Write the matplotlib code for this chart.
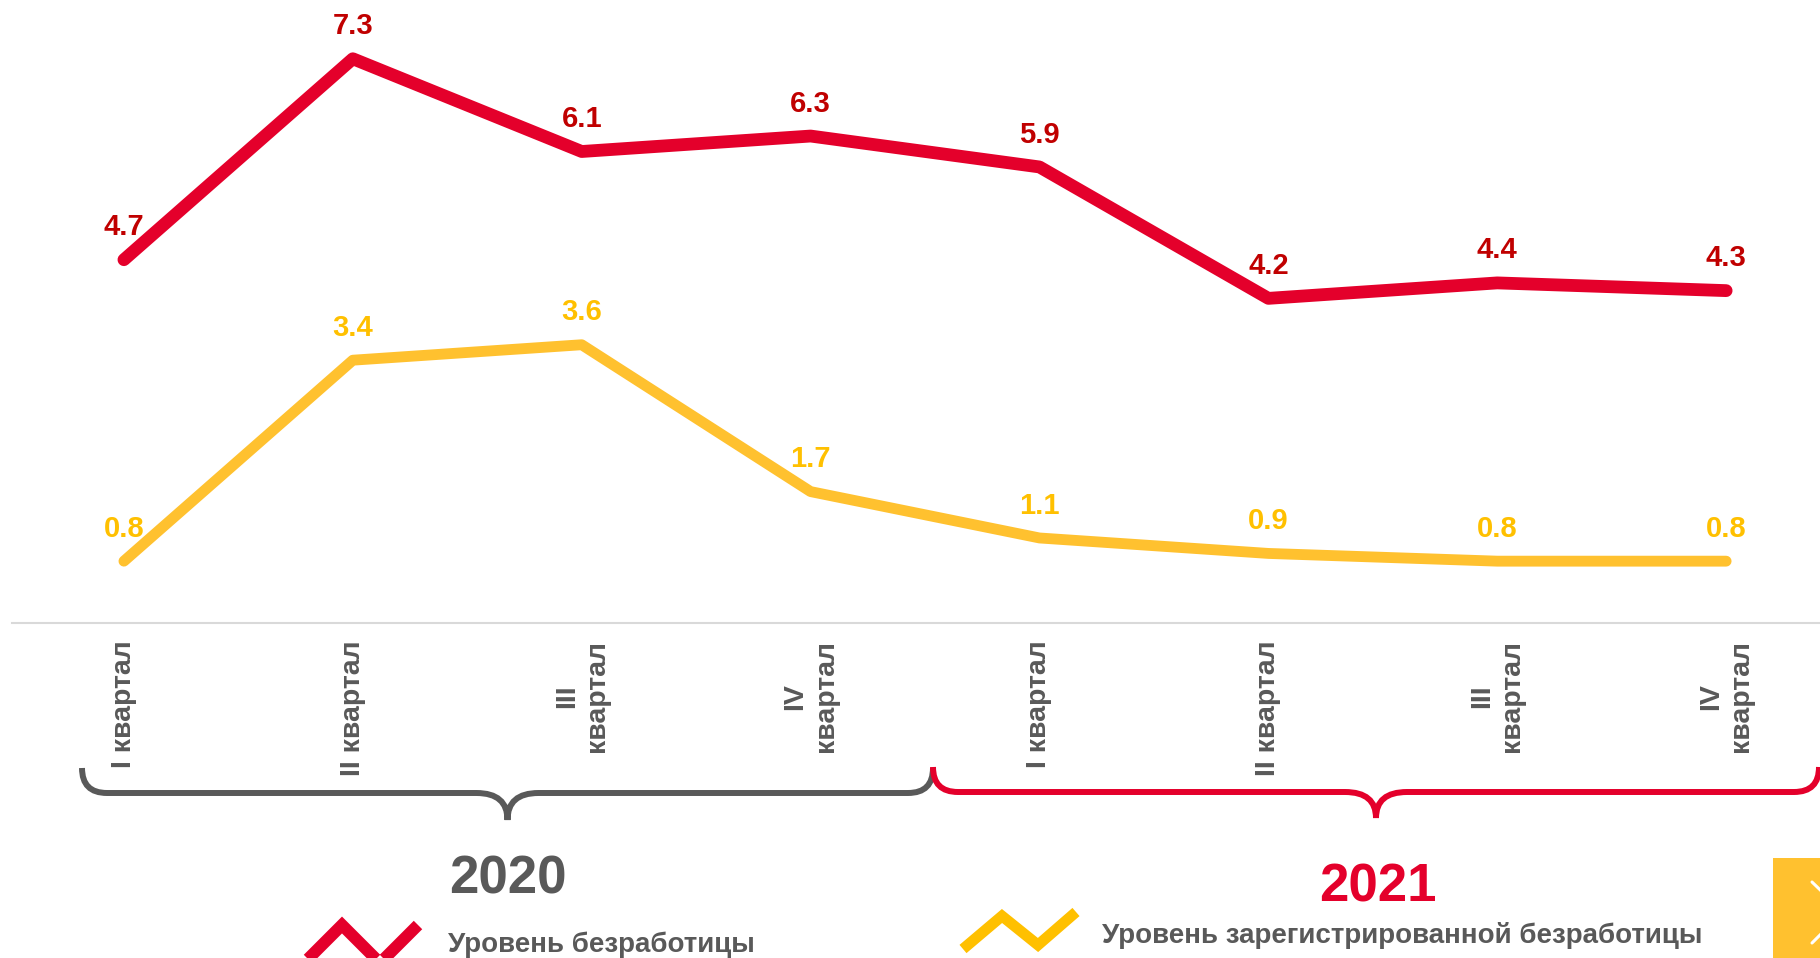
import matplotlib
matplotlib.use('Agg')
import matplotlib.pyplot as plt
from matplotlib.path import Path
from matplotlib.patches import PathPatch, Rectangle

plt.rcParams['font.family'] = ['Liberation Sans', 'DejaVu Sans']

# data
quarters = ['I квартал', 'II квартал', 'III\nквартал', 'IV\nквартал',
            'I квартал', 'II квартал', 'III\nквартал', 'IV\nквартал']
unemployment = [4.7, 7.3, 6.1, 6.3, 5.9, 4.2, 4.4, 4.3]
registered = [0.8, 3.4, 3.6, 1.7, 1.1, 0.9, 0.8, 0.8]
years = ['2020', '2021']
legend_names = ['Уровень безработицы',
                'Уровень зарегистрированной безработицы']

RED = '#e4002b'
RED_TXT = '#c00000'
YEL = '#ffc12f'
YEL_TXT = '#ffc000'
GRAY = '#595959'

W, H = 1820, 958
fig = plt.figure(figsize=(W / 100, H / 100), dpi=100)
ax = fig.add_axes([12 / W, (H - 623) / H, (W - 12) / W, 623 / H])

x = list(range(len(quarters)))
ax.plot(x, unemployment, color=RED, lw=9.2, solid_capstyle='round',
        solid_joinstyle='round', zorder=3)
ax.plot(x, registered, color=YEL, lw=7.8, solid_capstyle='round',
        solid_joinstyle='round', zorder=3)

for xi, v in zip(x, unemployment):
    ax.annotate('{:.1f}'.format(v), (xi, v), xytext=(0, 17.6),
                textcoords='offset points', ha='center', va='baseline',
                fontsize=21, fontweight='bold', color=RED_TXT)
for xi, v in zip(x, registered):
    ax.annotate('{:.1f}'.format(v), (xi, v), xytext=(0, 17.6),
                textcoords='offset points', ha='center', va='baseline',
                fontsize=21, fontweight='bold', color=YEL_TXT)

ax.set_xlim(-0.489, 7.41)
ax.set_ylim(0, 8.06)
ax.set_yticks([])
ax.set_xticks(x)
ax.set_xticklabels(quarters, rotation=90, ha='center', va='top',
                   multialignment='center', fontsize=20.5,
                   fontweight='bold', color=GRAY)
ax.tick_params(axis='x', length=0, pad=12.5)
for s in ['top', 'left', 'right']:
    ax.spines[s].set_visible(False)
ax.spines['bottom'].set_color('#d9d9d9')
ax.spines['bottom'].set_linewidth(1.5)

# overlay in pixel coords for braces, years and legend
ov = fig.add_axes([0, 0, 1, 1])
ov.set_xlim(0, W)
ov.set_ylim(H, 0)
ov.axis('off')
ov.patch.set_alpha(0)


def brace(x0, x1, ytop, ybar, ytip, color, r=25, w=31):
    xm = (x0 + x1) / 2
    verts = [(x0, ytop), (x0, ybar), (x0 + r, ybar),
             (xm - w, ybar), (xm, ybar), (xm, ytip),
             (xm, ybar), (xm + w, ybar),
             (x1 - r, ybar), (x1, ybar), (x1, ytop)]
    codes = [Path.MOVETO, Path.CURVE3, Path.CURVE3,
             Path.LINETO, Path.CURVE3, Path.CURVE3,
             Path.CURVE3, Path.CURVE3,
             Path.LINETO, Path.CURVE3, Path.CURVE3]
    ov.add_patch(PathPatch(Path(verts, codes), fill=False, edgecolor=color,
                           lw=4.3, capstyle='butt'))


brace(82, 933, 768, 793, 820, GRAY)
brace(933, 1819, 767, 792, 818, RED)

ov.text(508, 894, years[0], ha='center', va='baseline', fontsize=38,
        fontweight='bold', color=GRAY)
ov.text(1378, 902, years[1], ha='center', va='baseline', fontsize=38,
        fontweight='bold', color=RED)

# legend
ov.plot([298, 342, 380, 418], [969, 925, 963, 925], color=RED, lw=8.6,
        solid_capstyle='butt', solid_joinstyle='miter')
ov.text(448, 952, legend_names[0], ha='left', va='baseline', fontsize=20,
        fontweight='bold', color=GRAY)
ov.plot([963, 1002, 1038, 1076], [949, 916, 945, 912], color=YEL_TXT, lw=7.8,
        solid_capstyle='butt', solid_joinstyle='miter')
ov.text(1102, 943, legend_names[1], ha='left', va='baseline', fontsize=20,
        fontweight='bold', color=GRAY)

# partial navigation button at right edge
ov.add_patch(Rectangle((1773, 858), 60, 110, color=YEL, lw=0))
ov.plot([1812, 1843, 1812], [882, 912, 943], color='white', lw=2.2,
        solid_capstyle='round')

fig.savefig('out.png', dpi=100)
